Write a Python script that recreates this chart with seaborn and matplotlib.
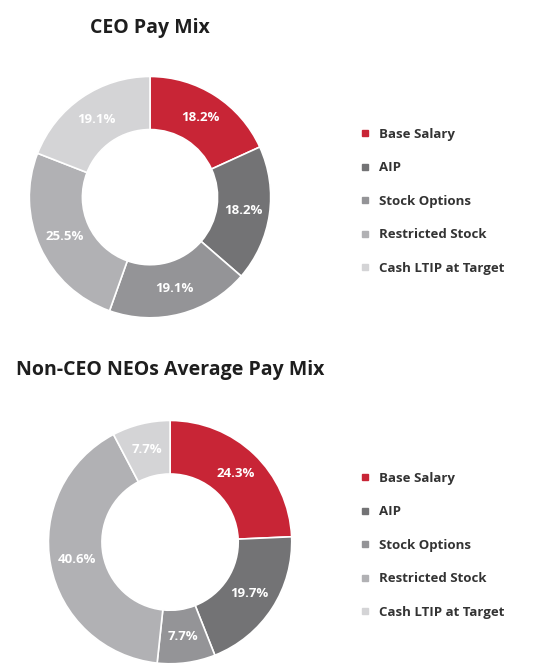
import numpy as np
import matplotlib
matplotlib.use("Agg")
import matplotlib.pyplot as plt
from matplotlib.lines import Line2D
import seaborn as sns

categories = ["Base Salary", "AIP", "Stock Options", "Restricted Stock", "Cash LTIP at Target"]
ceo_values = [18.2, 18.2, 19.1, 25.5, 19.1]
neo_values = [24.3, 19.7, 7.7, 40.6, 7.7]
colors = ["#C82536", "#737375", "#949497", "#B1B1B4", "#D4D4D6"]

sns.set_theme(style="white")
plt.rcParams['font.family'] = ['Open Sans', 'DejaVu Sans']

fig = plt.figure(figsize=(5.34, 6.66), dpi=100)


def donut(ax, values, title_x, title_y, title, legend_y):
    wedges, _ = ax.pie(values, colors=colors, startangle=90, counterclock=False,
                       radius=1.0, wedgeprops=dict(width=0.44, edgecolor="white", linewidth=1.2))
    for w, v in zip(wedges, values):
        ang = np.deg2rad((w.theta1 + w.theta2) / 2)
        ax.text(0.78 * np.cos(ang), 0.78 * np.sin(ang), f"{v:.1f}%", ha="center", va="center",
                color="white", fontsize=9.5, fontweight="bold")
    ax.set_xlim(-1.01, 1.01)
    ax.set_ylim(-1.01, 1.01)
    ax.set_aspect("equal")
    ax.axis("off")
    fig.text(title_x, title_y, title, ha="center", va="center", fontsize=14,
             fontweight="bold", color="#1e1e1e")
    handles = [Line2D([0], [0], marker="s", linestyle="", markersize=5,
                      markerfacecolor=c, markeredgecolor=c) for c in colors]
    leg = fig.legend(handles, categories, loc="upper left", bbox_to_anchor=(0.648, legend_y),
                     frameon=False, labelspacing=1.55, handletextpad=0.6, handlelength=1.0,
                     prop=dict(size=9.5, weight="bold"))
    for t in leg.get_texts():
        t.set_color("#333333")


ax1 = fig.add_axes([0.0524, 0.521, 0.457, 0.366])
donut(ax1, ceo_values, 150 / 534, 1 - 28 / 666, "CEO Pay Mix", 1 - 116 / 666)

ax2 = fig.add_axes([0.088, 0.0015, 0.461, 0.369])
donut(ax2, neo_values, 170 / 534, 1 - 370 / 666, "Non-CEO NEOs Average Pay Mix", 1 - 460 / 666)

fig.savefig("out.png", dpi=100)
